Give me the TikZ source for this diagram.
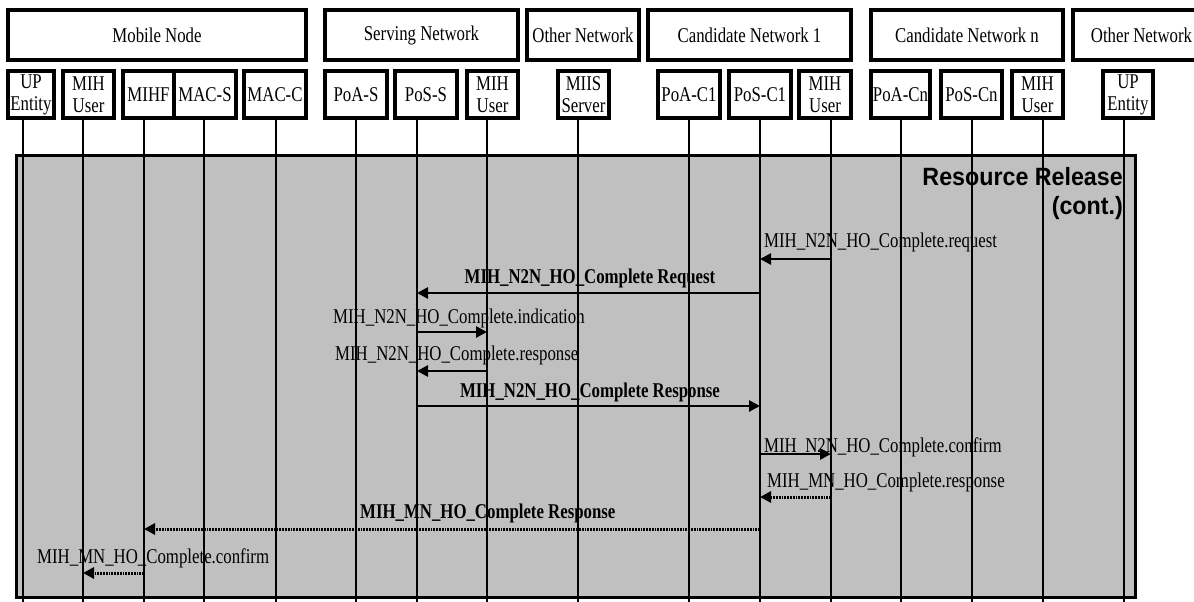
\documentclass[tikz,border=0pt]{standalone}
\usepackage{fontspec}
\setmainfont{Liberation Serif}
\newfontfamily\diagfont[FakeStretch=0.8]{Liberation Serif}
\newfontfamily\headfont[FakeStretch=0.93]{Liberation Sans}
\usepackage{xcolor}
\usetikzlibrary{arrows.meta}
\definecolor{panelgray}{RGB}{192,192,192}

\begin{document}
\begin{tikzpicture}[
      x=1pt, y=-1pt,
      group/.style={draw, line width=3.2pt, minimum height=50, inner sep=0pt,
                    font=\diagfont\fontsize{21}{22}\selectfont},
      ent/.style={draw, line width=3.2pt, minimum height=47, inner sep=0pt,
                  align=center, font=\diagfont\fontsize{21}{22}\selectfont},
      life/.style={line width=2pt},
      msg/.style={line width=2.6pt, -{Triangle[length=11pt,width=11pt]}},
      msgdot/.style={msg, line width=3pt, dash pattern=on 1.8pt off 1pt},
      lbl/.style={inner sep=0pt, font=\diagfont\fontsize{21}{22}\selectfont},
      blbl/.style={lbl, font=\diagfont\bfseries\fontsize{21}{22}\selectfont}
    ]
    \useasboundingbox (0,0) rectangle (1194,602);
    \clip (0,0) rectangle (1194,602);

    % network groups
    \node[group, minimum width=298] (mn)   at (157,35)    {Mobile Node};
    \node[group, minimum width=193] (sn)   at (421.5,35)  {Serving Network};
    \node[group, minimum width=112] (on1)  at (583,35)    {Other Network};
    \node[group, minimum width=203] (cn1)  at (749.5,35)  {Candidate Network 1};
    \node[group, minimum width=192] (cnn)  at (967,35)    {Candidate Network n};
    \node[group, minimum width=137] (on2)  at (1141.5,35) {Other Network\hspace{23pt}};

    % entities
    \node[ent, minimum width=46] (upL)   at (31,94.5)    {UP\\Entity};
    \node[ent, minimum width=51] (mihMN) at (88.5,94.5)  {MIH\\User};
    \node[ent, minimum width=51] (mihf)  at (148.5,94.5) {MIHF};
    \node[ent, minimum width=62] (macS)  at (205,94.5)   {MAC-S};
    \node[ent, minimum width=62] (macC)  at (275,94.5)   {MAC-C};
    \node[ent, minimum width=62] (poaS)  at (356,94.5)   {PoA-S};
    \node[ent, minimum width=62] (posS)  at (426,94.5)   {PoS-S};
    \node[ent, minimum width=51] (mihS)  at (492.5,94.5) {MIH\\User};
    \node[ent, minimum width=51] (miis)  at (583.5,94.5) {MIIS\\Server};
    \node[ent, minimum width=62] (poaC1) at (689,94.5)   {PoA-C1};
    \node[ent, minimum width=62] (posC1) at (760,94.5)   {PoS-C1};
    \node[ent, minimum width=52] (mihC1) at (825,94.5)   {MIH\\User};
    \node[ent, minimum width=59] (poaCn) at (900.5,94.5) {PoA-Cn};
    \node[ent, minimum width=61] (posCn) at (971.5,94.5) {PoS-Cn};
    \node[ent, minimum width=51] (mihCn) at (1037.5,94.5) {MIH\\User};
    \node[ent, minimum width=50] (upR)   at (1128,94.5)  {UP\\Entity};

    % panel
    \filldraw[fill=panelgray, line width=3pt] (16,155) rectangle (1135,597);
    \node[anchor=north east, inner sep=0pt, align=right,
          font=\headfont\bfseries\fontsize{25}{29}\selectfont]
      (rr) at (1123,167) {Resource Release\\(cont.)};

    % lifelines
    \foreach \n/\x in {upL/23, mihMN/83, mihf/144, macS/204, macC/276,
                       poaS/356, posS/417, mihS/487, miis/578, poaC1/689,
                       posC1/760, mihC1/831, poaCn/901, posCn/972,
                       mihCn/1043, upR/1124}
    {
      \coordinate (\n-l) at (\n.south -| \x,0);
      \draw[life] (\n-l) -- (\x,602);
    }

    % messages
    \draw[msg] (mihC1-l |- 0,259) -- (posC1-l |- 0,259);
    \node[lbl, anchor=base west] (l1) at (764,247) {MIH\_N2N\_HO\_Complete.request};
    \draw[msg] (posC1-l |- 0,293) -- (posS-l |- 0,293);
    \node[blbl, anchor=base] (l2) at (590,283) {MIH\_N2N\_HO\_Complete Request};
    \draw[msg] (posS-l |- 0,332) -- (mihS-l |- 0,332);
    \node[lbl, anchor=base west] (l3) at (333,323) {MIH\_N2N\_HO\_Complete.indication};
    \draw[msg] (mihS-l |- 0,371) -- (posS-l |- 0,371);
    \node[lbl, anchor=base west] (l4) at (335,360) {MIH\_N2N\_HO\_Complete.response};
    \draw[msg] (posS-l |- 0,406) -- (posC1-l |- 0,406);
    \node[blbl, anchor=base] (l5) at (590,397) {MIH\_N2N\_HO\_Complete Response};
    \draw[msg] (posC1-l |- 0,454) -- (mihC1-l |- 0,454);
    \node[lbl, anchor=base west] (l6) at (764,452) {MIH\_N2N\_HO\_Complete.confirm};
    \draw[msgdot] (mihC1-l |- 0,497) -- (posC1-l |- 0,497);
    \node[lbl, anchor=base west] (l7) at (767,487) {MIH\_MN\_HO\_Complete.response};
    \draw[msgdot] (posC1-l |- 0,529) -- (mihf-l |- 0,529);
    \node[blbl, anchor=base west] (l8) at (360,518) {MIH\_MN\_HO\_Complete Response};
    \draw[msgdot] (mihf-l |- 0,573) -- (mihMN-l |- 0,573);
    \node[lbl, anchor=base west] (l9) at (37,563) {MIH\_MN\_HO\_Complete.confirm};
  \end{tikzpicture}
\end{document}
